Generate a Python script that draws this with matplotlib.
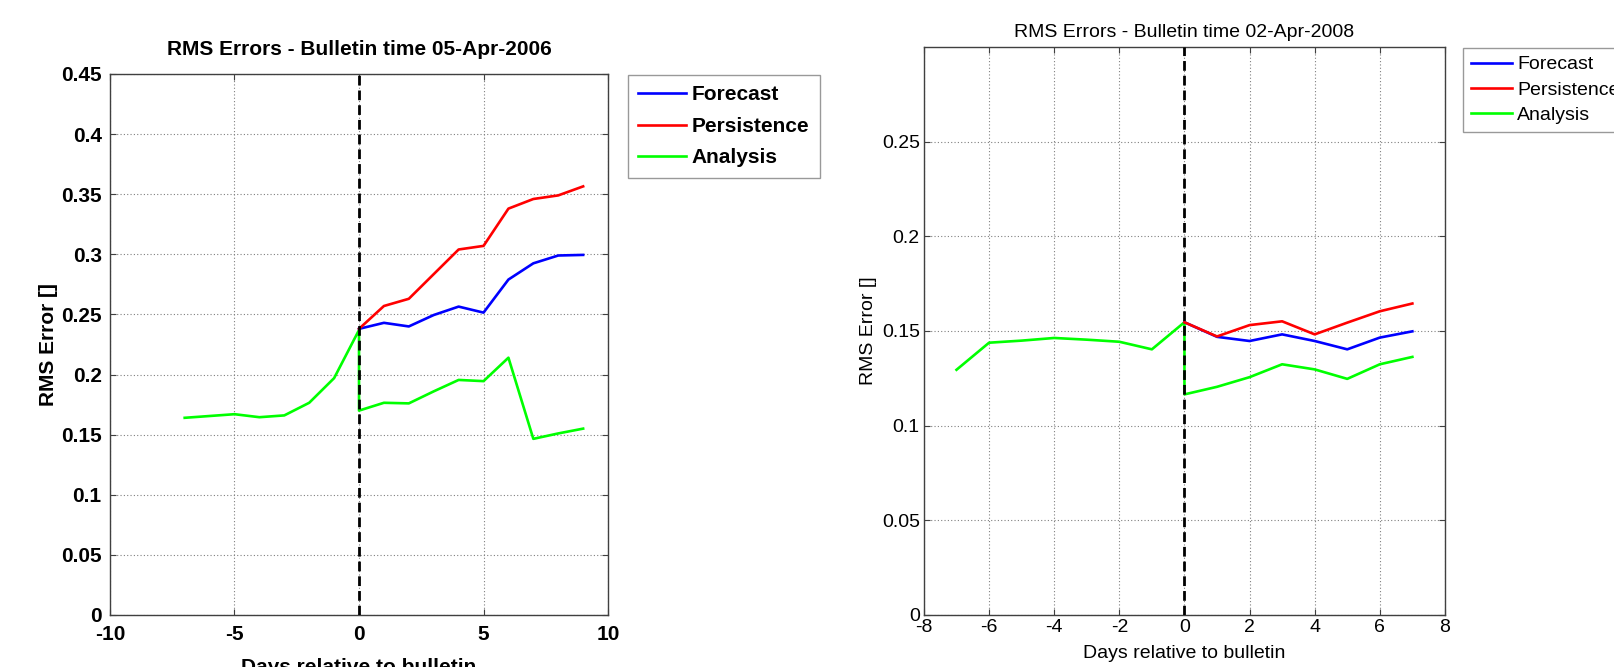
import matplotlib

matplotlib.use("Agg")
import matplotlib.pyplot as plt

plt.rcParams["axes.unicode_minus"] = False

BLUE = "#0000ff"
RED = "#ff0000"
GREEN = "#00ff00"

# 05-Apr-2006 bulletin
days_back_06 = [-7, -6, -5, -4, -3, -2, -1, 0]
days_ahead_06 = [0, 1, 2, 3, 4, 5, 6, 7, 8, 9]
analysis_back_06 = [0.164, 0.1655, 0.167, 0.1645, 0.166, 0.1765, 0.197, 0.237]
forecast_06 = [0.238, 0.243, 0.240, 0.2495, 0.2565, 0.2515, 0.279, 0.2925, 0.299, 0.2995]
persistence_06 = [0.238, 0.257, 0.263, 0.2835, 0.304, 0.307, 0.338, 0.346, 0.349, 0.3565]
analysis_ahead_06 = [0.170, 0.1765, 0.176, 0.186, 0.1955, 0.1945, 0.214, 0.1465, 0.151, 0.155]
xticks_06 = [-10, -5, 0, 5, 10]
yticks_06 = [0, 0.05, 0.1, 0.15, 0.2, 0.25, 0.3, 0.35, 0.4, 0.45]
yticklabels_06 = ["0", "0.05", "0.1", "0.15", "0.2", "0.25", "0.3", "0.35", "0.4", "0.45"]

# 02-Apr-2008 bulletin
days_back_08 = [-7, -6, -5, -4, -3, -2, -1, 0]
days_ahead_08 = [0, 1, 2, 3, 4, 5, 6, 7]
analysis_back_08 = [0.1295, 0.1438, 0.1449, 0.1463, 0.1454, 0.1443, 0.1403, 0.1546]
forecast_08 = [0.1546, 0.1469, 0.1447, 0.1482, 0.1447, 0.1403, 0.1465, 0.1498]
persistence_08 = [0.1546, 0.1471, 0.1531, 0.1551, 0.1482, 0.1544, 0.1604, 0.1645]
analysis_ahead_08 = [0.1165, 0.1205, 0.1256, 0.1324, 0.1297, 0.1247, 0.1324, 0.1363]
xticks_08 = [-8, -6, -4, -2, 0, 2, 4, 6, 8]
yticks_08 = [0, 0.05, 0.1, 0.15, 0.2, 0.25]
yticklabels_08 = ["0", "0.05", "0.1", "0.15", "0.2", "0.25"]

series_names = ["Forecast", "Persistence", "Analysis"]


def panel(ax, back, ahead, an_back, fc, ps, an_ahead, font):
    ax.plot(ahead, fc, color=BLUE, lw=1.9, label=series_names[0], zorder=3)
    ax.plot(ahead, ps, color=RED, lw=1.9, label=series_names[1], zorder=3)
    ax.plot(back + ahead, an_back + an_ahead, color=GREEN, lw=1.9,
            label=series_names[2], zorder=2)
    ax.axvline(0, color="black", lw=2.0, ls=(0, (3.5, 1.8)), zorder=4)
    ax.grid(True, ls=(0, (1, 2)), lw=0.8, color="#808080")
    ax.tick_params(direction="in", top=True, right=True, length=4,
                   width=0.8, color="#404040")
    for side in ax.spines.values():
        side.set_color("#404040")
        side.set_linewidth(1.0)
    for lab in ax.get_xticklabels() + ax.get_yticklabels():
        lab.update(font)


def boxed_legend(ax, x, y, prop, **kw):
    leg = ax.legend(loc="upper left", bbox_to_anchor=(x / 1615, 1 - y / 667),
                    bbox_transform=ax.figure.transFigure, prop=prop,
                    frameon=True, fancybox=False, borderaxespad=0, **kw)
    leg.get_frame().set_edgecolor("#808080")
    leg.get_frame().set_linewidth(1.0)


fig = plt.figure(figsize=(16.15, 6.67), dpi=100)

# left: bold
bold = dict(family="Liberation Sans", weight="bold", size=15)
left = fig.add_axes([0.0681, 0.078, 0.3084, 0.8111])
left.set_xlim(-10, 10)
left.set_ylim(0, 0.45)
left.set_xticks(xticks_06)
left.set_yticks(yticks_06, yticklabels_06)
panel(left, days_back_06, days_ahead_06, analysis_back_06, forecast_06,
      persistence_06, analysis_ahead_06, bold)
left.tick_params(axis="x", pad=7)
left.tick_params(axis="y", pad=6)
left.set_title("RMS Errors - Bulletin time 05-Apr-2006", pad=14, **bold)
left.set_xlabel("Days relative to bulletin", **bold)
left.xaxis.set_label_coords(0.5, -0.080)
left.set_ylabel("RMS Error []", **bold)
left.yaxis.set_label_coords(-0.104, 0.5)
boxed_legend(left, 628, 75, bold, handlelength=2.3, handletextpad=0.25,
             borderpad=0.5, labelspacing=0.6)

# right: plain
plain = dict(family="Liberation Sans", size=14)
right = fig.add_axes([0.5721, 0.078, 0.3226, 0.8516])
right.set_xlim(-8, 8)
right.set_ylim(0, 0.3)
right.set_xticks(xticks_08)
right.set_yticks(yticks_08, yticklabels_08)
panel(right, days_back_08, days_ahead_08, analysis_back_08, forecast_08,
      persistence_08, analysis_ahead_08, plain)
right.tick_params(axis="x", pad=3)
right.tick_params(axis="y", pad=3)
right.set_title("RMS Errors - Bulletin time 02-Apr-2008", pad=7, **plain)
right.set_xlabel("Days relative to bulletin", **plain)
right.xaxis.set_label_coords(0.5, -0.052)
right.set_ylabel("RMS Error []", **plain)
right.yaxis.set_label_coords(-0.090, 0.5)
boxed_legend(right, 1463, 48, plain, handlelength=2.1, handletextpad=0.3,
             borderpad=0.4, labelspacing=0.4)

fig.savefig("out.png", dpi=100)
